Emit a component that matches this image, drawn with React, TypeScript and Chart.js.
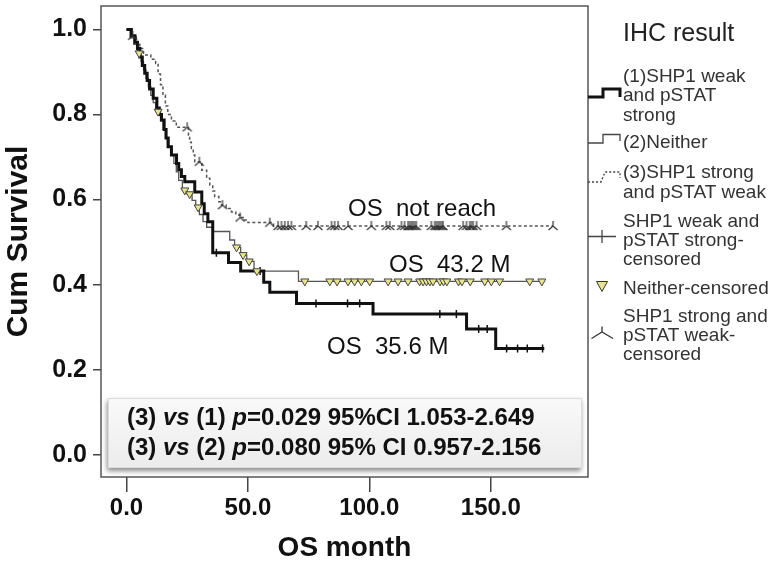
import { useEffect, useRef } from "react";
import { Chart, registerables } from "chart.js";

Chart.register(...registerables);

// ---------------- data ----------------
// (1) SHP1 weak and pSTAT strong  (thick black)
const g1Time = [0, 2, 3.5, 4.5, 5.5, 6.5, 7.5, 8.5, 9.5, 11, 12.5, 13.5, 14.4, 15.5, 16.3, 17.1, 18.5, 20.6, 21.5, 22.6, 24, 28.1, 31, 32, 33.5, 35.5, 42, 47, 56.5, 59, 70, 101.5, 140, 152, 172];
const g1Surv = [1, 0.985, 0.97, 0.955, 0.935, 0.915, 0.897, 0.88, 0.86, 0.838, 0.815, 0.8, 0.787, 0.765, 0.745, 0.724, 0.705, 0.685, 0.67, 0.654, 0.642, 0.618, 0.59, 0.567, 0.548, 0.475, 0.452, 0.432, 0.406, 0.382, 0.356, 0.331, 0.296, 0.25, 0.25];
const g1Censor = [37, 55, 78, 91, 96, 129, 135.8, 145, 148.5, 156.5, 161, 165, 171.3];

// (2) Neither (thin grey)
const g2Time = [0, 1.5, 3, 4.5, 6, 7, 8, 9, 10, 11, 12, 14, 15, 16, 17.5, 18.5, 19.5, 20.5, 21.5, 23, 25, 27, 28.5, 30, 31.5, 33, 35.5, 42.5, 44.5, 47, 49.5, 52.5, 70.8, 172];
const g2Surv = [1, 0.98, 0.965, 0.944, 0.925, 0.905, 0.885, 0.865, 0.845, 0.828, 0.807, 0.785, 0.765, 0.745, 0.725, 0.705, 0.685, 0.665, 0.645, 0.622, 0.613, 0.598, 0.582, 0.565, 0.548, 0.535, 0.525, 0.505, 0.488, 0.47, 0.455, 0.432, 0.408, 0.408];
const g2Censor = [5.2, 13, 24, 26, 29.5, 45.3, 48, 50.5, 53.7, 73.4, 83.7, 86.7, 91.2, 93.9, 96.7, 100.1, 107.7, 111.8, 115.9, 120.7, 122.1, 123.5, 124.9, 126.2, 129.1, 130.5, 131.9, 136.7, 138.1, 141.5, 147.5, 150.2, 153.6, 166, 171];

// (3) SHP1 strong and pSTAT weak (dashed)
const g3Time = [0, 2, 4, 5.5, 7, 10, 12, 13, 14, 15, 16, 17, 18.5, 20.5, 25.5, 26, 26.7, 27.5, 28.1, 31, 33, 34.3, 35.5, 36.3, 38, 39.1, 41, 43.2, 45, 46.6, 48.5, 50, 60.5, 175.6];
const g3Surv = [1, 0.985, 0.97, 0.955, 0.94, 0.93, 0.92, 0.895, 0.87, 0.845, 0.82, 0.8, 0.785, 0.77, 0.752, 0.735, 0.72, 0.705, 0.689, 0.669, 0.65, 0.634, 0.62, 0.607, 0.595, 0.587, 0.579, 0.571, 0.564, 0.558, 0.552, 0.546, 0.538, 0.538];
const g3Censor = [2.5, 25, 30, 39.5, 46.8, 59, 62.4, 63.8, 65.2, 66.5, 67.9, 74, 78.8, 84.4, 85.7, 87.1, 91.2, 100.8, 107, 108.4, 113.2, 114.5, 115.9, 116.6, 117.3, 117.9, 118.6, 119.3, 125.5, 126.9, 127.6, 128.3, 129, 129.7, 130.3, 138.6, 140, 141.3, 142, 142.7, 144.1, 156.4, 175.6];

const xTicks = [0, 50, 100, 150];
const yTicks = [0, 0.2, 0.4, 0.6, 0.8, 1.0];

const xTitle = "OS month";
const yTitle = "Cum Survival";
const legendTitle = "IHC result";
const legendItems = [
  ["(1)SHP1 weak", "and pSTAT", "strong"],
  ["(2)Neither"],
  ["(3)SHP1 strong", "and pSTAT weak"],
  ["SHP1 weak and", "pSTAT strong-", "censored"],
  ["Neither-censored"],
  ["SHP1 strong and", "pSTAT weak-", "censored"],
];
const annotations = ["OS  not reach", "OS  43.2 M", "OS  35.6 M"];
const statLines: [string, boolean][][] = [
  [["(3) ", false], ["vs", true], [" (1) ", false], ["p", true], ["=0.029 95%CI 1.053-2.649", false]],
  [["(3) ", false], ["vs", true], [" (2) ", false], ["p", true], ["=0.080 95% CI 0.957-2.156", false]],
];

// ---------------- helpers ----------------
const FAMILY = "'Liberation Sans', Arial, Helvetica, sans-serif";
const W = 776;
const H = 568;

const curve = (t: number[], s: number[]) => t.map((x, i) => ({ x, y: s[i] }));
const survAt = (t: number[], s: number[], x: number) => {
  let v = s[0];
  for (let i = 0; i < t.length; i++) if (t[i] <= x) v = s[i];
  return v;
};
const marks = (c: number[], t: number[], s: number[]) => c.map((x) => ({ x, y: survAt(t, s, x) }));

function makeLambda(): HTMLCanvasElement {
  const c = document.createElement("canvas");
  c.width = 12;
  c.height = 12;
  const g = c.getContext("2d")!;
  g.strokeStyle = "#333";
  g.lineWidth = 1.2;
  g.beginPath();
  g.moveTo(6, 6);
  g.lineTo(6, 1);
  g.moveTo(1.5, 10);
  g.lineTo(6, 6);
  g.lineTo(10.5, 10);
  g.stroke();
  return c;
}

const decor = {
  id: "decor",
  beforeDatasetsDraw(chart: any) {
    const { ctx, chartArea: a } = chart;
    ctx.save();
    // frame
    ctx.strokeStyle = "#555";
    ctx.lineWidth = 1.5;
    ctx.strokeRect(a.left, a.top, a.right - a.left, a.bottom - a.top);

    // statistics box
    const bx = 108, by = 398, bw = 474, bh = 70;
    ctx.save();
    ctx.shadowColor = "rgba(0,0,0,0.45)";
    ctx.shadowBlur = 5;
    ctx.shadowOffsetX = -1;
    ctx.shadowOffsetY = 3;
    const grad = ctx.createLinearGradient(0, by, 0, by + bh);
    grad.addColorStop(0, "#f9f9f9");
    grad.addColorStop(1, "#ececec");
    ctx.fillStyle = grad;
    ctx.fillRect(bx, by, bw, bh);
    ctx.restore();
    ctx.strokeStyle = "#dcdcdc";
    ctx.lineWidth = 1;
    ctx.strokeRect(bx + 0.5, by + 0.5, bw - 1, bh - 1);

    ctx.fillStyle = "#111";
    ctx.textBaseline = "alphabetic";
    ctx.textAlign = "left";
    const baselines = [425, 455];
    statLines.forEach((segs, li) => {
      let x = 127;
      segs.forEach(([txt, it]) => {
        ctx.font = `${it ? "italic " : ""}bold 24px ${FAMILY}`;
        ctx.fillText(txt, x, baselines[li]);
        x += ctx.measureText(txt).width;
      });
    });
    ctx.restore();
  },
  afterDraw(chart: any) {
    const { ctx } = chart;
    ctx.save();
    ctx.textBaseline = "alphabetic";
    ctx.textAlign = "left";

    // annotations
    ctx.fillStyle = "#111";
    ctx.font = `24px ${FAMILY}`;
    const annPos = [
      [348, 216],
      [389, 272],
      [327, 354],
    ];
    annotations.forEach((t, i) => ctx.fillText(t, annPos[i][0], annPos[i][1]));

    // legend title
    ctx.fillStyle = "#222";
    ctx.font = `25px ${FAMILY}`;
    ctx.fillText(legendTitle, 623, 40.5);

    // legend items
    ctx.fillStyle = "#333";
    ctx.font = `19px ${FAMILY}`;
    const centers = [
      [75, 94.5, 114],
      [141.5],
      [171.5, 191],
      [220, 239.5, 258.5],
      [286.7],
      [315, 334.5, 353.5],
    ];
    legendItems.forEach((lines, i) => {
      lines.forEach((ln, j) => ctx.fillText(ln, 623, centers[i][j] + 6.8));
    });

    // legend symbols
    const L = 588;
    ctx.strokeStyle = "#111";
    ctx.lineWidth = 3;
    ctx.beginPath();
    ctx.moveTo(L, 97);
    ctx.lineTo(603, 97);
    ctx.lineTo(603, 89);
    ctx.lineTo(620, 89);
    ctx.lineTo(620, 97);
    ctx.stroke();

    ctx.strokeStyle = "#444";
    ctx.lineWidth = 1.3;
    ctx.beginPath();
    ctx.moveTo(L, 143);
    ctx.lineTo(603, 143);
    ctx.lineTo(603, 134.5);
    ctx.lineTo(620, 134.5);
    ctx.lineTo(620, 141);
    ctx.stroke();

    ctx.setLineDash([2, 2]);
    ctx.beginPath();
    ctx.moveTo(L, 182);
    ctx.lineTo(601, 182);
    ctx.lineTo(605, 172);
    ctx.lineTo(620, 172);
    ctx.lineTo(620, 178);
    ctx.stroke();
    ctx.setLineDash([]);

    ctx.beginPath();
    ctx.moveTo(L, 236.5);
    ctx.lineTo(616, 236.5);
    ctx.moveTo(602, 230);
    ctx.lineTo(602, 243);
    ctx.stroke();

    ctx.fillStyle = "#e9e58c";
    ctx.strokeStyle = "#333";
    ctx.lineWidth = 1;
    ctx.beginPath();
    ctx.moveTo(596.5, 281.5);
    ctx.lineTo(607.5, 281.5);
    ctx.lineTo(602, 291.5);
    ctx.closePath();
    ctx.fill();
    ctx.stroke();

    ctx.lineWidth = 1.3;
    ctx.beginPath();
    ctx.moveTo(602, 332);
    ctx.lineTo(602, 326.5);
    ctx.moveTo(591.5, 338.5);
    ctx.lineTo(602, 332);
    ctx.lineTo(613, 338.5);
    ctx.stroke();

    ctx.restore();
  },
};

export default function App() {
  const ref = useRef<HTMLCanvasElement>(null);

  useEffect(() => {
    document.body.style.margin = "0";
    const canvas = ref.current!;
    const tickFont = { family: FAMILY, size: 24, weight: "bold" as const };

    const chart = new Chart(canvas, {
      type: "line",
      data: {
        datasets: [
          {
            label: "triangles",
            data: marks(g2Censor, g2Time, g2Surv),
            showLine: false,
            pointStyle: "triangle",
            rotation: 180,
            pointRadius: 4.6,
            pointBackgroundColor: "#e9e58c",
            pointBorderColor: "#444",
            pointBorderWidth: 1,
            order: 1,
          },
          {
            label: "plus",
            data: marks(g1Censor, g1Time, g1Surv),
            showLine: false,
            pointStyle: "line",
            rotation: 90,
            pointRadius: 4,
            pointBorderColor: "#111",
            pointBorderWidth: 1.5,
            order: 2,
          },
          {
            label: "lambda",
            data: marks(g3Censor, g3Time, g3Surv),
            showLine: false,
            pointStyle: makeLambda() as any,
            pointRadius: 5,
            order: 3,
          },
          {
            label: "g1",
            data: curve(g1Time, g1Surv),
            stepped: true,
            borderColor: "#111",
            borderWidth: 3,
            pointRadius: 0,
            fill: false,
            order: 5,
          },
          {
            label: "g2",
            data: curve(g2Time, g2Surv),
            stepped: true,
            borderColor: "#555",
            borderWidth: 1.3,
            pointRadius: 0,
            fill: false,
            order: 6,
          },
          {
            label: "g3",
            data: curve(g3Time, g3Surv),
            stepped: true,
            borderColor: "#555",
            borderWidth: 1.5,
            borderDash: [3, 2.5],
            pointRadius: 0,
            fill: false,
            order: 7,
          },
        ],
      },
      options: {
        responsive: false,
        animation: false,
        devicePixelRatio: 1,
        events: [],
        layout: { padding: { left: 0, top: 6, right: 188, bottom: 0 } },
        plugins: {
          legend: { display: false },
          tooltip: { enabled: false },
          title: { display: false },
        },
        scales: {
          x: {
            type: "linear",
            min: -10.5,
            max: 190,
            afterBuildTicks: (s: any) => {
              s.ticks = xTicks.map((v) => ({ value: v }));
            },
            afterFit: (s: any) => {
              s.height = 91;
              s.paddingLeft = 0;
              s.paddingRight = 0;
              s.paddingTop = 0;
              s.paddingBottom = 0;
            },
            ticks: {
              callback: (v: any) => Number(v).toFixed(1),
              font: tickFont,
              color: "#111",
              padding: 2,
              maxRotation: 0,
              autoSkip: false,
            },
            grid: {
              display: true,
              drawOnChartArea: false,
              drawTicks: true,
              tickLength: 15,
              color: "#444",
              lineWidth: 1.5,
            },
            border: { display: false },
            title: {
              display: true,
              text: xTitle,
              font: { family: FAMILY, size: 28, weight: "bold" as const },
              color: "#111",
              padding: { top: 0, bottom: 3 },
            },
          },
          y: {
            type: "linear",
            min: -0.052,
            max: 1.055,
            afterBuildTicks: (s: any) => {
              s.ticks = yTicks.map((v) => ({ value: v }));
            },
            afterFit: (s: any) => {
              s.width = 101;
              s.paddingLeft = 0;
              s.paddingRight = 0;
              s.paddingTop = 0;
              s.paddingBottom = 0;
            },
            ticks: {
              callback: (v: any) => Number(v).toFixed(1),
              font: { family: FAMILY, size: 25, weight: "bold" as const },
              color: "#111",
              padding: 6,
            },
            grid: {
              display: true,
              drawOnChartArea: false,
              drawTicks: true,
              tickLength: 8,
              color: "#444",
              lineWidth: 1.5,
            },
            border: { display: false },
            title: {
              display: true,
              text: yTitle,
              font: { family: FAMILY, size: 30, weight: "bold" as const },
              color: "#111",
              padding: { top: 1, bottom: 0 },
            },
          },
        },
      },
      plugins: [decor],
    });

    return () => chart.destroy();
  }, []);

  return <canvas ref={ref} width={W} height={H} style={{ display: "block", width: W, height: H }} />;
}
